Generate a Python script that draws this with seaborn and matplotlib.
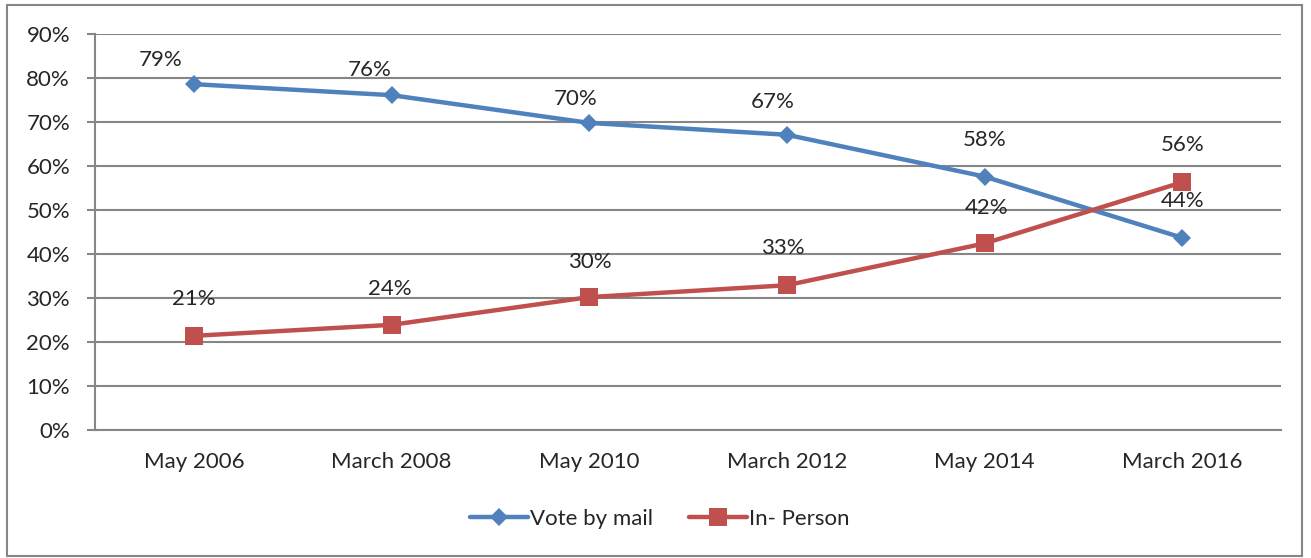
import matplotlib
matplotlib.use("Agg")
import matplotlib.pyplot as plt
from matplotlib.lines import Line2D
from matplotlib.patches import Rectangle
from matplotlib.ticker import FixedLocator, PercentFormatter
import pandas as pd
import seaborn as sns

# %% data
periods = ["May 2006", "March 2008", "May 2010", "March 2012", "May 2014", "March 2016"]
vote_by_mail = [78.6, 76.1, 69.8, 67.1, 57.6, 43.7]
in_person = [21.4, 23.9, 30.2, 32.9, 42.4, 56.3]
mail_labels = ["79%", "76%", "70%", "67%", "58%", "44%"]
person_labels = ["21%", "24%", "30%", "33%", "42%", "56%"]
series_names = ["Vote by mail", "In- Person"]

df = pd.DataFrame({
    "period": periods * 2,
    "share": vote_by_mail + in_person,
    "series": [series_names[0]] * 6 + [series_names[1]] * 6,
})

# %% style
sns.set_style("white")
plt.rcParams["font.family"] = ["Lato", "DejaVu Sans"]
BLUE = "#4F81BD"
RED = "#C0504D"
GRID = "#868686"
FS = 16

fig = plt.figure(figsize=(13.11, 5.58), dpi=100)
W, H = 1311, 558
ax = fig.add_axes([95 / W, 1 - 430 / H, (1281 - 95) / W, (430 - 34) / H])

sns.pointplot(
    data=df, x="period", y="share", hue="series", order=periods,
    palette=[BLUE, RED], markers=["D", "s"], linestyles=["-", "-"],
    errorbar=None, ax=ax, legend=False,
)
for line, ms in zip(ax.lines, [9.3, 13.5]):
    line.set_linewidth(3.2)
    line.set_markersize(ms)
    line.set_markeredgewidth(0)

ax.set_xlim(-0.5, 5.5)
ax.set_ylim(0, 90)
ax.set_yticks(range(0, 91, 10))
ax.yaxis.set_major_formatter(PercentFormatter(decimals=0))
ax.grid(axis="y", color=GRID, lw=1.5)
ax.set_axisbelow(True)
ax.xaxis.set_minor_locator(FixedLocator([i - 0.5 for i in range(7)]))
ax.tick_params(axis="x", which="major", length=0, pad=16, labelsize=FS)
ax.tick_params(axis="x", which="minor", length=6, width=1.5, color=GRID, direction="out")
ax.tick_params(axis="y", length=6, width=1.5, color=GRID, pad=12, labelsize=FS, left=True)
ax.set_xlabel("")
ax.set_ylabel("")
for side in ["top", "right"]:
    ax.spines[side].set_visible(False)
for side in ["left", "bottom"]:
    ax.spines[side].set_color(GRID)
    ax.spines[side].set_linewidth(1.5)

# data labels (offsets in pixels, as placed in the original)
mail_off = [(-33, 24), (-22, 25), (-14, 24), (-14, 33), (0, 37), (0, 37)]
person_off = [(0, 37), (-2, 36), (1, 35), (-4, 37), (2, 35), (1, 37)]
for i in range(6):
    ax.annotate(mail_labels[i], (i, vote_by_mail[i]), xytext=(mail_off[i][0] * 0.72, mail_off[i][1] * 0.72),
                textcoords="offset points", ha="center", va="center", fontsize=FS)
    ax.annotate(person_labels[i], (i, in_person[i]), xytext=(person_off[i][0] * 0.72, person_off[i][1] * 0.72),
                textcoords="offset points", ha="center", va="center", fontsize=FS)

handles = [
    Line2D([], [], color=BLUE, lw=3.2, marker="D", ms=9.3, mew=0),
    Line2D([], [], color=RED, lw=3.2, marker="s", ms=13.5, mew=0),
]
fig.legend(handles, series_names, loc="center", bbox_to_anchor=(660 / W, 1 - 519 / H),
           ncol=2, frameon=False, fontsize=FS, handlelength=2.6, handletextpad=0.1,
           columnspacing=1.6)

fig.patches.append(Rectangle((7 / W, 2 / H), (1302 - 7) / W, (553 - 2) / H,
                             transform=fig.transFigure, fill=False, edgecolor=GRID, lw=1.5))

fig.savefig("out.png", dpi=100)
